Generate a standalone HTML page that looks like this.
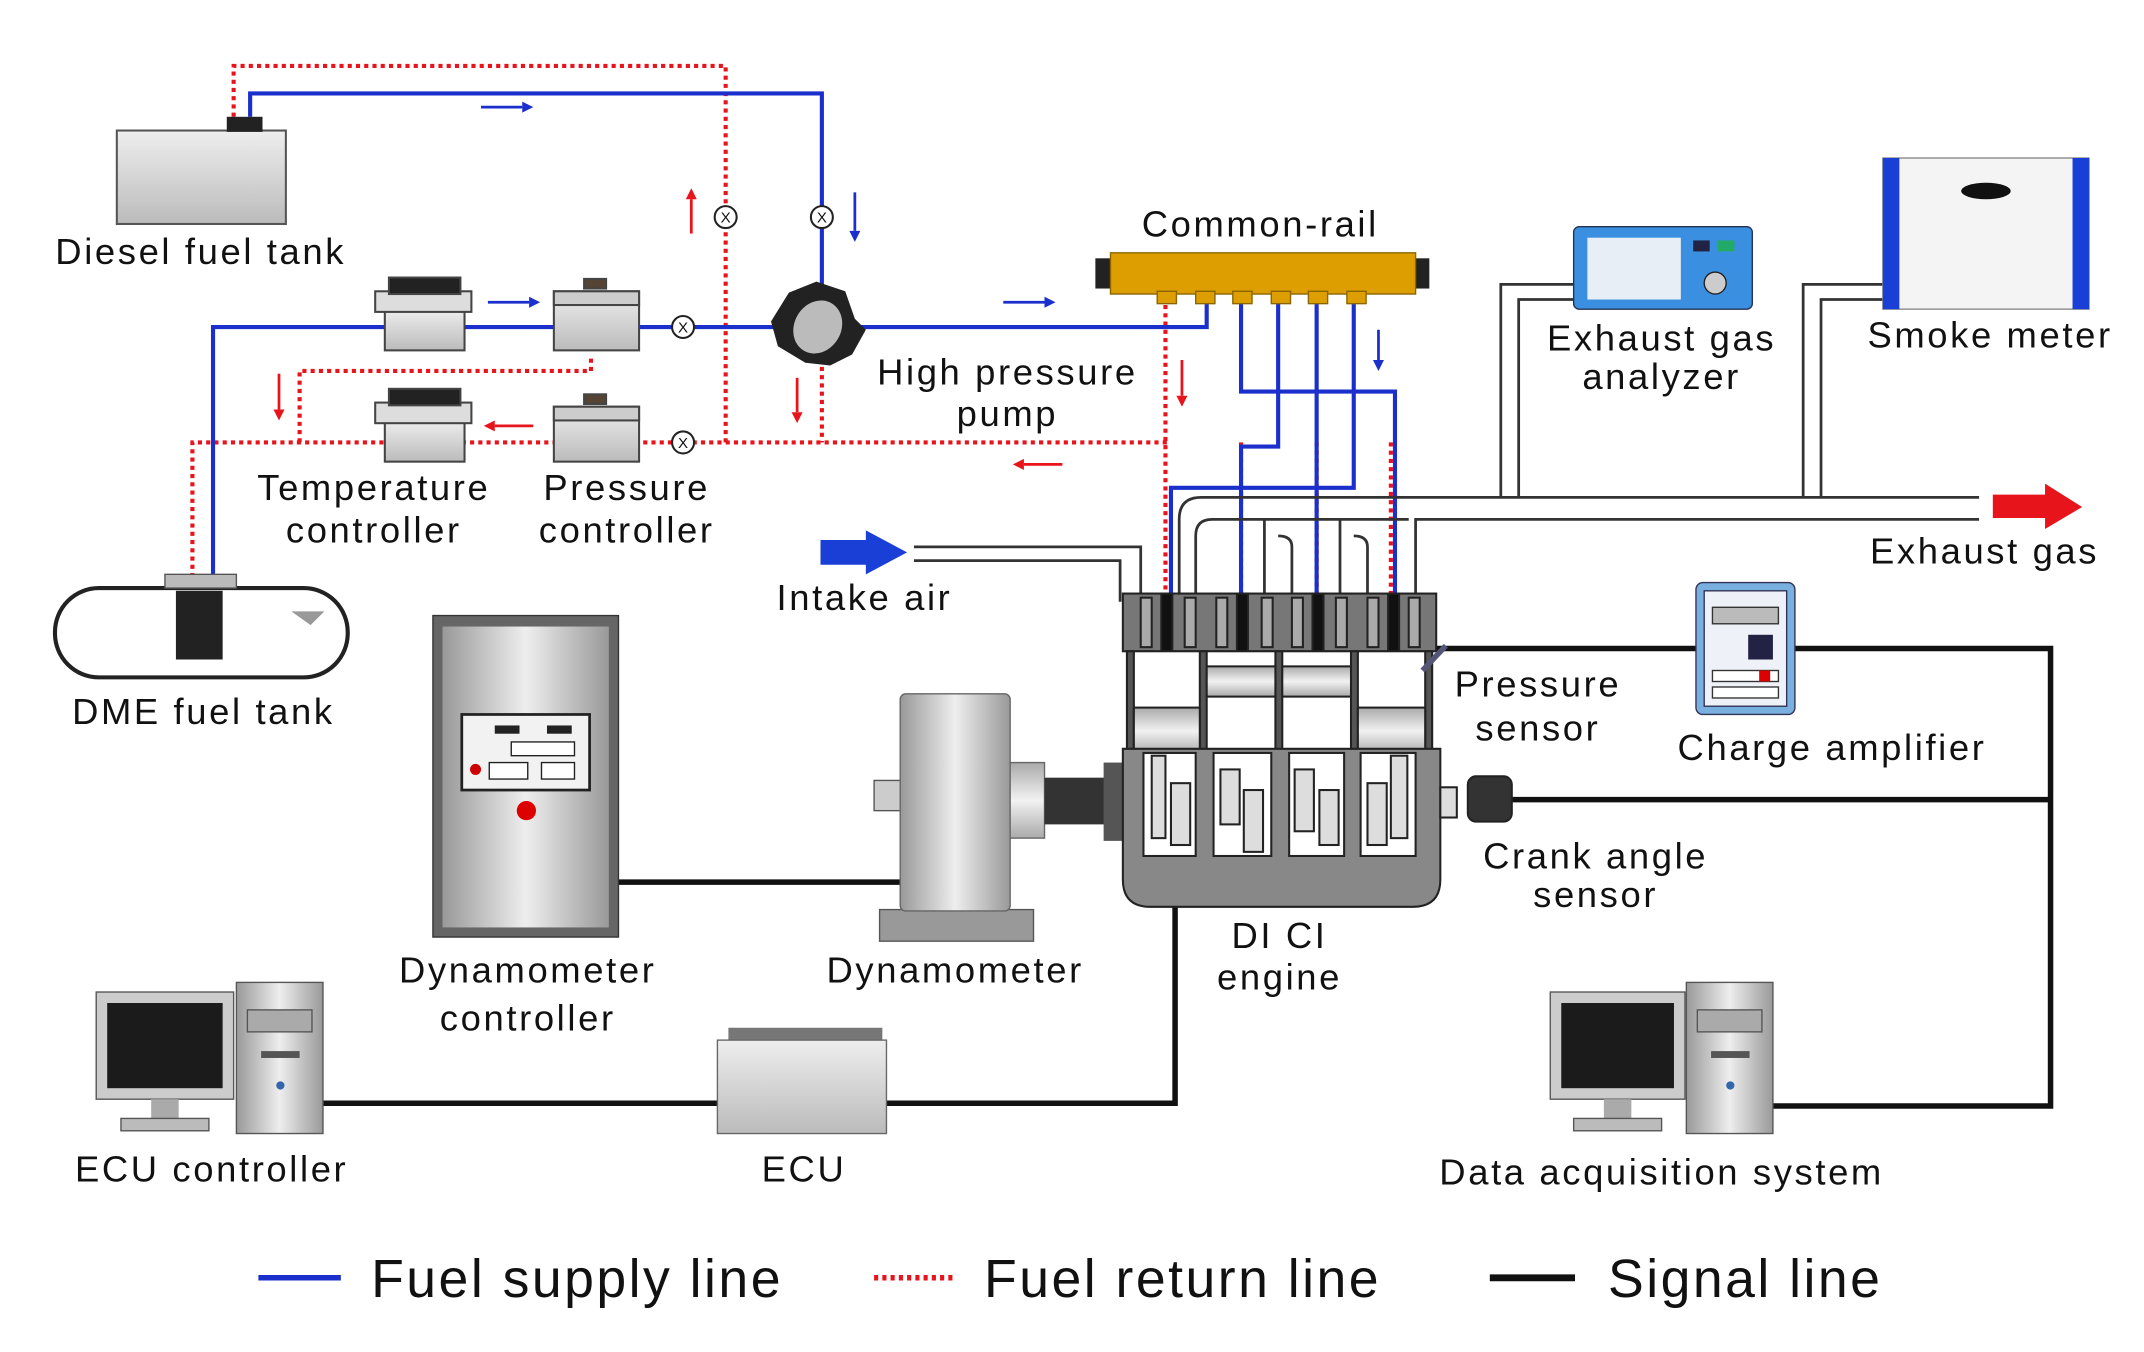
<!DOCTYPE html>
<html><head><meta charset="utf-8"><style>
html,body{margin:0;padding:0;background:#fff;}
svg{display:block;}
text{font-family:"Liberation Sans","DejaVu Sans",sans-serif;fill:#111;}
.l{font-size:26.5px;letter-spacing:1.9px;}
.g{font-size:39px;letter-spacing:1.8px;}
</style></head><body>
<svg width="2144" height="1352" viewBox="0 0 1560 984" preserveAspectRatio="none" xmlns="http://www.w3.org/2000/svg">
<defs>
<linearGradient id="gv" x1="0" y1="0" x2="0" y2="1"><stop offset="0" stop-color="#eee"/><stop offset="1" stop-color="#bbb"/></linearGradient>
<linearGradient id="gh" x1="0" y1="0" x2="1" y2="0"><stop offset="0" stop-color="#999"/><stop offset="0.5" stop-color="#eee"/><stop offset="1" stop-color="#999"/></linearGradient>
<linearGradient id="gp" x1="0" y1="0" x2="0" y2="1"><stop offset="0" stop-color="#aaa"/><stop offset="0.5" stop-color="#f2f2f2"/><stop offset="1" stop-color="#aaa"/></linearGradient>
</defs>

<g fill="none" stroke="#e8141c" stroke-width="3" stroke-dasharray="3,3">
<polyline points="170,85 170,48 528,48 528,322"/>
<polyline points="140,420 140,322 850,322"/>
<polyline points="218,322 218,270 430,270 430,258"/>
<line x1="598" y1="255" x2="598" y2="322"/>
<line x1="848" y1="222" x2="848" y2="450"/>
<line x1="903" y1="322" x2="903" y2="450"/>
<line x1="958" y1="322" x2="958" y2="450"/>
<line x1="1012" y1="322" x2="1012" y2="450"/>
</g>

<g fill="none" stroke="#1a2fcc" stroke-width="3">
<polyline points="182,85 182,68 598,68 598,210"/>
<polyline points="155,420 155,238 580,238"/>
<polyline points="610,238 878,238 878,215"/>
<polyline points="903,215 903,285 1015,285 1015,450"/>
<polyline points="930,215 930,325 903,325 903,450"/>
<polyline points="958,215 958,450"/>
<polyline points="985,215 985,355 852,355 852,450"/>
</g>

<g stroke-width="2" fill="none">
<line x1="350" y1="78" x2="380" y2="78" stroke="#1a2fcc"/><path d="M380,74 L388,78 L380,82Z" fill="#1a2fcc"/>
<line x1="355" y1="220" x2="385" y2="220" stroke="#1a2fcc"/><path d="M385,216 L393,220 L385,224Z" fill="#1a2fcc"/>
<line x1="730" y1="220" x2="760" y2="220" stroke="#1a2fcc"/><path d="M760,216 L768,220 L760,224Z" fill="#1a2fcc"/>
<line x1="622" y1="140" x2="622" y2="168" stroke="#1a2fcc"/><path d="M618,168 L622,176 L626,168Z" fill="#1a2fcc"/>
<line x1="1003" y1="240" x2="1003" y2="262" stroke="#1a2fcc"/><path d="M999,262 L1003,270 L1007,262Z" fill="#1a2fcc"/>
<line x1="503" y1="170" x2="503" y2="145" stroke="#e8141c"/><path d="M499,145 L503,137 L507,145Z" fill="#e8141c"/>
<line x1="203" y1="272" x2="203" y2="298" stroke="#e8141c"/><path d="M199,298 L203,306 L207,298Z" fill="#e8141c"/>
<line x1="580" y1="275" x2="580" y2="300" stroke="#e8141c"/><path d="M576,300 L580,308 L584,300Z" fill="#e8141c"/>
<line x1="860" y1="262" x2="860" y2="288" stroke="#e8141c"/><path d="M856,288 L860,296 L864,288Z" fill="#e8141c"/>
<line x1="360" y1="310" x2="388" y2="310" stroke="#e8141c"/><path d="M360,306 L352,310 L360,314Z" fill="#e8141c"/>
<line x1="745" y1="338" x2="773" y2="338" stroke="#e8141c"/><path d="M745,334 L737,338 L745,342Z" fill="#e8141c"/>
</g>

<g fill="#fff" stroke="#222" stroke-width="1.5">
<circle cx="528" cy="158" r="8"/><circle cx="598" cy="158" r="8"/><circle cx="497" cy="238" r="8"/><circle cx="497" cy="322" r="8"/>
</g>
<g font-size="11" text-anchor="middle"><text x="528" y="162">X</text><text x="598" y="162">X</text><text x="497" y="242">X</text><text x="497" y="326">X</text></g>

<rect x="85" y="95" width="123" height="68" fill="url(#gv)" stroke="#555" stroke-width="1.5"/>
<rect x="165" y="85" width="26" height="11" fill="#222"/>
<text x="146" y="192" class="l" text-anchor="middle">Diesel fuel tank</text>

<g stroke="#444" stroke-width="1.5">
<rect x="280" y="225" width="58" height="30" fill="url(#gv)"/><rect x="273" y="212" width="70" height="15" fill="#ddd"/><rect x="283" y="202" width="52" height="12" fill="#222"/>
<rect x="280" y="306" width="58" height="30" fill="url(#gv)"/><rect x="273" y="293" width="70" height="15" fill="#ddd"/><rect x="283" y="283" width="52" height="12" fill="#222"/>
<rect x="403" y="212" width="62" height="43" fill="url(#gv)"/><rect x="403" y="212" width="62" height="10" fill="#ccc"/><rect x="425" y="203" width="16" height="7" fill="#543"/>
<rect x="403" y="296" width="62" height="40" fill="url(#gv)"/><rect x="403" y="296" width="62" height="10" fill="#ccc"/><rect x="425" y="287" width="16" height="7" fill="#543"/>
</g>
<text x="272" y="364" class="l" text-anchor="middle">Temperature</text>
<text x="272" y="395" class="l" text-anchor="middle">controller</text>
<text x="456" y="364" class="l" text-anchor="middle">Pressure</text>
<text x="456" y="395" class="l" text-anchor="middle">controller</text>

<g>
<path d="M574,213 L594,205 L615,212 L622,232 L630,240 L620,258 L604,266 L586,264 L566,252 L561,234Z" fill="#222"/>
<ellipse cx="595" cy="238" rx="17" ry="20" fill="#bbb" transform="rotate(30 595 238)"/>
</g>
<text x="733" y="280" class="l" text-anchor="middle">High pressure</text>
<text x="733" y="310" class="l" text-anchor="middle">pump</text>

<rect x="797" y="188" width="12" height="22" fill="#222"/>
<rect x="1028" y="188" width="12" height="22" fill="#222"/>
<rect x="808" y="184" width="222" height="30" fill="#dc9e00" stroke="#8a6500" stroke-width="1"/>
<g fill="#dc9e00" stroke="#8a6500"><rect x="842" y="212" width="14" height="9"/><rect x="870" y="212" width="14" height="9"/><rect x="897" y="212" width="14" height="9"/><rect x="925" y="212" width="14" height="9"/><rect x="952" y="212" width="14" height="9"/><rect x="980" y="212" width="14" height="9"/></g>
<text x="917" y="172" class="l" text-anchor="middle">Common-rail</text>

<g fill="none" stroke="#333" stroke-width="2">
<path d="M858,438 L858,378 Q858,362 874,362 L1440,362"/>
<path d="M1030,438 L1030,378 L1440,378"/>
<path d="M870,438 L870,390 Q870,378 882,378 L1025,378"/>
<path d="M920,438 L920,378"/><path d="M975,438 L975,378"/>
<path d="M665,398 L830,398 L830,438"/><path d="M665,408 L815,408 L815,438"/>
<path d="M940,438 L940,398 Q940,390 930,390"/><path d="M995,438 L995,398 Q995,390 985,390"/>
<polyline points="1092,362 1092,207 1145,207"/><polyline points="1105,362 1105,218 1145,218"/>
<polyline points="1312,362 1312,207 1370,207"/><polyline points="1325,362 1325,218 1370,218"/>
</g>
<path d="M1450,360 L1488,360 L1488,352 L1515,369 L1488,385 L1488,377 L1450,377Z" fill="#e8141c"/>
<text x="1444" y="410" class="l" text-anchor="middle">Exhaust gas</text>
<path d="M597,393 L630,393 L630,386 L660,402 L630,418 L630,411 L597,411Z" fill="#1a3fd6"/>
<text x="629" y="444" class="l" text-anchor="middle">Intake air</text>

<rect x="1145" y="165" width="130" height="60" rx="4" fill="#3b8fe0" stroke="#235" stroke-width="1"/>
<rect x="1155" y="173" width="68" height="45" fill="#e8eef5"/>
<rect x="1232" y="175" width="12" height="8" fill="#224"/><rect x="1250" y="175" width="12" height="8" fill="#2a6"/>
<circle cx="1248" cy="206" r="8" fill="#ccc" stroke="#222"/>
<text x="1209" y="255" class="l" text-anchor="middle">Exhaust gas</text>
<text x="1209" y="283" class="l" text-anchor="middle">analyzer</text>
<rect x="1370" y="115" width="150" height="110" fill="#f4f4f4" stroke="#888"/>
<rect x="1370" y="115" width="12" height="110" fill="#1a3fd6"/><rect x="1508" y="115" width="12" height="110" fill="#1a3fd6"/>
<ellipse cx="1445" cy="139" rx="18" ry="6" fill="#111"/>
<text x="1448" y="253" class="l" text-anchor="middle">Smoke meter</text>

<rect x="40" y="428" width="213" height="65" rx="32" fill="#fff" stroke="#222" stroke-width="3"/>
<rect x="120" y="418" width="52" height="10" fill="#bbb" stroke="#555"/>
<rect x="128" y="430" width="34" height="50" fill="#222"/>
<path d="M212,445 L236,445 L226,455Z" fill="#999"/>
<text x="148" y="527" class="l" text-anchor="middle">DME fuel tank</text>

<g fill="none" stroke="#111" stroke-width="4">
<line x1="450" y1="642" x2="655" y2="642"/>
<polyline points="235,803 522,803"/>
<polyline points="645,803 855,803 855,660"/>
<polyline points="1045,472 1492,472 1492,805 1290,805"/>
<line x1="1100" y1="582" x2="1492" y2="582"/>
</g>

<rect x="315" y="448" width="135" height="234" fill="#666" stroke="#333"/>
<rect x="322" y="456" width="121" height="219" fill="url(#gh)"/>
<rect x="336" y="520" width="93" height="55" fill="#f2f2f2" stroke="#222" stroke-width="2"/>
<rect x="360" y="528" width="18" height="6" fill="#222"/><rect x="398" y="528" width="18" height="6" fill="#222"/>
<rect x="372" y="540" width="46" height="10" fill="#fff" stroke="#222"/>
<rect x="356" y="555" width="28" height="12" fill="#fff" stroke="#222"/><rect x="394" y="555" width="24" height="12" fill="#fff" stroke="#222"/>
<circle cx="346" cy="560" r="4" fill="#c00"/>
<circle cx="383" cy="590" r="7" fill="#d00"/>
<text x="384" y="715" class="l" text-anchor="middle">Dynamometer</text>
<text x="384" y="750" class="l" text-anchor="middle">controller</text>

<rect x="640" y="662" width="112" height="23" fill="#999" stroke="#555"/>
<rect x="636" y="568" width="20" height="22" fill="#ccc" stroke="#555"/>
<rect x="655" y="505" width="80" height="158" rx="4" fill="url(#gh)" stroke="#666"/>
<rect x="735" y="555" width="25" height="55" fill="url(#gp)" stroke="#666"/>
<rect x="760" y="566" width="45" height="34" fill="#333"/>
<rect x="803" y="555" width="14" height="57" fill="#555"/>
<text x="695" y="715" class="l" text-anchor="middle">Dynamometer</text>

<g stroke="#222" stroke-width="1.5">
<rect x="817" y="432" width="228" height="42" fill="#777"/>
<g fill="#aaa"><rect x="830" y="435" width="8" height="36"/><rect x="862" y="435" width="8" height="36"/><rect x="885" y="435" width="8" height="36"/><rect x="918" y="435" width="8" height="36"/><rect x="940" y="435" width="8" height="36"/><rect x="972" y="435" width="8" height="36"/><rect x="995" y="435" width="8" height="36"/><rect x="1025" y="435" width="8" height="36"/></g>
<g fill="#111"><rect x="845" y="432" width="8" height="48"/><rect x="900" y="432" width="8" height="48"/><rect x="955" y="432" width="8" height="48"/><rect x="1010" y="432" width="8" height="48"/></g>
<rect x="820" y="474" width="222" height="75" fill="#fff"/>
<g fill="#555"><rect x="820" y="474" width="5" height="75"/><rect x="873" y="474" width="5" height="75"/><rect x="928" y="474" width="5" height="75"/><rect x="983" y="474" width="5" height="75"/><rect x="1037" y="474" width="5" height="75"/></g>
<rect x="825" y="515" width="48" height="34" fill="url(#gp)"/>
<rect x="878" y="485" width="50" height="22" fill="url(#gp)"/>
<rect x="933" y="485" width="50" height="22" fill="url(#gp)"/>
<rect x="988" y="515" width="49" height="34" fill="url(#gp)"/>
<path d="M817,545 L1048,545 L1048,640 Q1048,660 1028,660 L837,660 Q817,660 817,640Z" fill="#888"/>
<g fill="#fff"><rect x="832" y="548" width="38" height="75"/><rect x="883" y="548" width="42" height="75"/><rect x="938" y="548" width="40" height="75"/><rect x="990" y="548" width="40" height="75"/></g>
<g fill="#ddd"><rect x="838" y="550" width="10" height="60"/><rect x="852" y="570" width="14" height="45"/><rect x="888" y="560" width="14" height="40"/><rect x="905" y="575" width="14" height="45"/><rect x="942" y="560" width="14" height="45"/><rect x="960" y="575" width="14" height="40"/><rect x="995" y="570" width="14" height="45"/><rect x="1012" y="550" width="12" height="60"/></g>
<rect x="1048" y="573" width="12" height="22" fill="#ddd"/>
<rect x="1068" y="565" width="32" height="33" rx="6" fill="#333"/>
<line x1="1035" y1="488" x2="1052" y2="470" stroke="#557" stroke-width="4"/>
</g>
<text x="931" y="690" class="l" text-anchor="middle">DI CI</text>
<text x="931" y="720" class="l" text-anchor="middle">engine</text>
<text x="1119" y="507" class="l" text-anchor="middle">Pressure</text>
<text x="1119" y="539" class="l" text-anchor="middle">sensor</text>
<text x="1161" y="632" class="l" text-anchor="middle">Crank angle</text>
<text x="1161" y="660" class="l" text-anchor="middle">sensor</text>

<rect x="1234" y="424" width="72" height="96" rx="5" fill="#7ab0e0" stroke="#335"/>
<rect x="1240" y="430" width="60" height="84" fill="#eef2f8" stroke="#335"/>
<rect x="1246" y="442" width="48" height="12" fill="#bbb" stroke="#333"/>
<rect x="1272" y="462" width="18" height="18" fill="#224"/>
<rect x="1246" y="488" width="48" height="8" fill="#fff" stroke="#333"/><rect x="1246" y="500" width="48" height="8" fill="#fff" stroke="#333"/>
<rect x="1280" y="488" width="8" height="8" fill="#d00"/>
<text x="1333" y="553" class="l" text-anchor="middle">Charge amplifier</text>

<rect x="70" y="722" width="100" height="78" fill="#ccc" stroke="#555"/>
<rect x="78" y="730" width="84" height="62" fill="#1b1b1b"/>
<rect x="110" y="800" width="20" height="14" fill="#aaa"/><rect x="88" y="814" width="64" height="9" fill="#bbb" stroke="#555"/>
<rect x="172" y="715" width="63" height="110" fill="url(#gh)" stroke="#555"/>
<rect x="180" y="735" width="47" height="16" fill="#aaa" stroke="#555"/><rect x="190" y="765" width="28" height="5" fill="#555"/>
<circle cx="204" cy="790" r="3" fill="#36a"/>
<text x="154" y="860" class="l" text-anchor="middle">ECU controller</text>

<rect x="530" y="748" width="112" height="10" fill="#777"/>
<rect x="522" y="757" width="123" height="68" fill="url(#gv)" stroke="#666"/>
<text x="585" y="860" class="l" text-anchor="middle">ECU</text>

<rect x="1128" y="722" width="98" height="78" fill="#ccc" stroke="#555"/>
<rect x="1136" y="730" width="82" height="62" fill="#1b1b1b"/>
<rect x="1167" y="800" width="20" height="14" fill="#aaa"/><rect x="1145" y="814" width="64" height="9" fill="#bbb" stroke="#555"/>
<rect x="1227" y="715" width="63" height="110" fill="url(#gh)" stroke="#555"/>
<rect x="1235" y="735" width="47" height="16" fill="#aaa" stroke="#555"/><rect x="1245" y="765" width="28" height="5" fill="#555"/>
<circle cx="1259" cy="790" r="3" fill="#36a"/>
<text x="1209" y="862" class="l" text-anchor="middle">Data acquisition system</text>

<line x1="188" y1="930" x2="248" y2="930" stroke="#1a2fcc" stroke-width="4"/>
<text x="270" y="944" class="g">Fuel supply line</text>
<line x1="636" y1="930" x2="696" y2="930" stroke="#e8141c" stroke-width="4" stroke-dasharray="3,3"/>
<text x="716" y="944" class="g">Fuel return line</text>
<line x1="1084" y1="930" x2="1146" y2="930" stroke="#111" stroke-width="5"/>
<text x="1170" y="944" class="g">Signal line</text>
</svg>
</body></html>
